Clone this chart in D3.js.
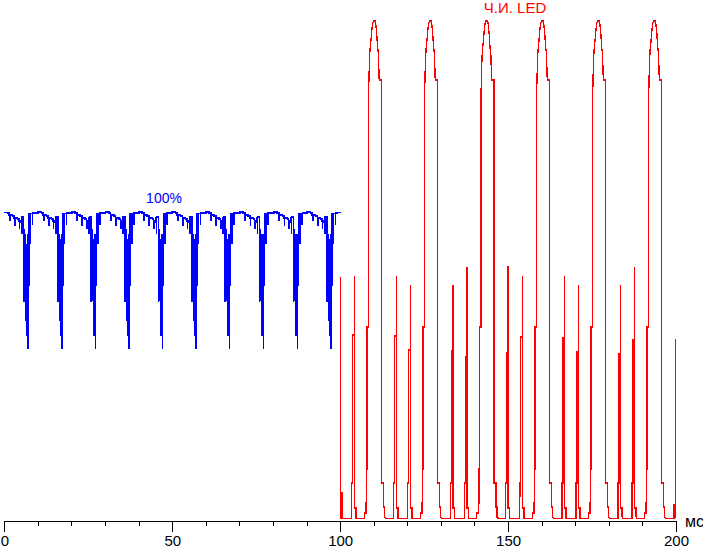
<!DOCTYPE html>
<html>
<head>
<meta charset="utf-8">
<script src="https://cdn.jsdelivr.net/npm/d3@7"></script>
<style>
  html, body { margin: 0; padding: 0; background: #fff; }
  svg { display: block; }
  text { font-family: "Liberation Sans", Arial, sans-serif; }
</style>
</head>
<body>
<svg id="chart" width="703" height="549"></svg>
<script>
// ---------------- data ----------------
const xMajorTicks = [0, 50, 100, 150, 200];
const xMinorTicks = [10, 20, 30, 40, 60, 70, 80, 90, 110, 120, 130, 140, 160, 170, 180, 190];
const xUnitLabel = "мс";
const redLabel = "Ч.И. LED";
const blueLabel = "100%";

// Blue series (100%): times of the deep dips (ms)
const blueDipTimes = [6.97, 17.1, 27.1, 37.15, 47.07, 57.0, 67.0, 77.15, 87.28, 97.2];
// one flicker period around a dip: offset from dip time (ms) and level (%)
const bluePulseOffsets = [-7.9, -7.0, -6.0, -5.5, -5.4, -5.3, -4.5, -4.0, -3.9, -3.8, -3.0, -2.6, -2.5, -2.4, -2.1,
  -1.85, -1.8, -1.75, -1.3, -1.2, -1.15, -1.0, -0.9, -0.8, -0.7, -0.6, -0.5, -0.4, -0.3, -0.2, -0.1,
  0, 0.05, 0.2, 0.3, 0.75, 0.8, 1.4, 1.45, 1.9];
const bluePulseValues = [61.4, 61.6, 61.4, 61.0, 60.0, 61.0, 60.8, 60.4, 59.0, 60.4, 60.2, 59.8, 58.4, 59.8, 59.6,
  60.4, 57.4, 60.6, 60.6, 43.7, 58.0, 46.0, 57.0, 44.0, 56.0, 40.0, 55.0, 37.0, 54.0, 45.0, 57.0,
  34.3, 55.0, 47.0, 61.2, 55.4, 61.3, 59.2, 61.4, 61.5];
const blueEnds = [[0, 61.5], [100, 61.4]];

// Red series (Ч.И. LED): narrow spikes
const redSpikeTimes     = [100.09, 104.26, 116.77, 120.94, 133.57, 137.74, 149.96, 154.30, 166.82, 170.99, 183.50, 187.67, 199.88];
const redSpikePeaks     = [48.6, 48.8, 48.8, 47.0, 47.0, 50.6, 50.7, 48.7, 48.7, 46.9, 46.9, 50.5, 36.2];
const redSpikeShoulders = [0.3, 37.0, 36.8, 34.0, 33.8, 32.6, 33.4, 36.6, 36.4, 33.6, 33.2, 36.0, 3.0];
const redSpikePre       = [0.3, 7.4, 7.4, 7.4, 7.4, 7.4, 7.4, 7.4, 7.4, 7.4, 7.4, 7.4, 0.3];
const redSpikeAfter     = [5.4, 2.4, 2.4, 2.4, 2.4, 2.4, 2.4, 2.4, 2.4, 2.4, 2.4, 2.4, 0.3];
// Red series: wide humps (rise times, and the hump shape)
const redHumpStarts = [108.43, 125.11, 141.91, 158.47, 175.16, 191.84];
const redHumpOffsets = [-1.25, -1.2, -0.75, -0.75, -0.6, -0.6, -0.45, -0.45, 0, 0, 0.15, 0.3, 0.45, 0.75, 1.0, 1.25, 1.5, 2.0,
  2.2, 2.45, 2.7, 2.95, 3.2, 3.9, 3.93, 4.5, 4.5, 4.8, 4.8, 5.1, 5.1];
const redHumpValues = [0.3, 1.4, 1.4, 3.4, 3.4, 10.2, 10.2, 38.6, 38.6, 84.0, 88.6, 92.0, 94.0, 96.0, 98.0, 99.4, 99.8, 99.8,
  99.0, 97.4, 94.6, 93.4, 88.0, 88.0, 7.4, 7.4, 2.6, 2.6, 0.5, 0.5, 0.3];
const redRange = [100, 200];
const redBase = 0.3;

// ---------------- build point tables ----------------
const bluePts = [];
blueDipTimes.forEach(td => {
  bluePulseOffsets.forEach((o, i) => {
    const t = td + o;
    if (t >= 0 && t <= 100) bluePts.push([t, bluePulseValues[i]]);
  });
});
blueEnds.forEach(p => bluePts.push(p));
bluePts.sort((a, b) => a[0] - b[0]);

const redPts = [[redRange[0], redBase]];
redSpikeTimes.forEach((ts, i) => {
  const s = [
    [ts - 0.8, redBase], [ts - 0.78, redSpikePre[i]], [ts - 0.5, redSpikePre[i]],
    [ts - 0.5, redSpikeShoulders[i]], [ts - 0.02, redSpikeShoulders[i]], [ts, redSpikePeaks[i]],
    [ts + 0.02, redSpikeAfter[i]], [ts + 0.45, redSpikeAfter[i]], [ts + 0.47, redBase]
  ];
  s.forEach(p => { if (p[0] >= redRange[0] && p[0] <= redRange[1]) redPts.push(p); });
});
redHumpStarts.forEach(tr => {
  redHumpOffsets.forEach((o, i) => redPts.push([tr + o, redHumpValues[i]]));
});
redPts.sort((a, b) => a[0] - b[0]);

// ---------------- drawing ----------------
const svg = d3.select("#chart");
const x = d3.scaleLinear().domain([0, 200]).range([4.3, 676]);
const y = d3.scaleLinear().domain([0, 100]).range([520, 20]);

const stepLine = d3.line().x(d => x(d[0])).y(d => y(d[1])).curve(d3.curveStepAfter);
const line = d3.line().x(d => x(d[0])).y(d => y(d[1]));

svg.append("path").datum(bluePts)
  .attr("d", stepLine).attr("fill", "none").attr("stroke", "#0000ff")
  .attr("stroke-width", 1.6).attr("stroke-linejoin", "miter").attr("shape-rendering", "crispEdges");

svg.append("path").datum(redPts)
  .attr("d", line).attr("fill", "none").attr("stroke", "#ff0000")
  .attr("stroke-width", 1.3).attr("stroke-linejoin", "miter").attr("shape-rendering", "crispEdges");

// axis
const minorAxis = d3.axisBottom(x).tickValues(xMinorTicks).tickSize(5).tickSizeOuter(0).tickFormat("");
const majorAxis = d3.axisBottom(x).tickValues(xMajorTicks).tickSize(11).tickSizeOuter(0).tickPadding(3);

const gMinor = svg.append("g").attr("transform", "translate(0,521)").call(minorAxis);
const gMajor = svg.append("g").attr("transform", "translate(0,521)").call(majorAxis);
[gMinor, gMajor].forEach(g => {
  g.selectAll("path, line").attr("stroke", "#000").attr("shape-rendering", "crispEdges");
});
gMajor.selectAll("text").attr("fill", "#000").attr("font-size", 15)
  .attr("font-family", "'Liberation Sans', Arial, sans-serif");
gMajor.selectAll(".tick text").filter(d => d === 0).attr("text-anchor", "start").attr("x", -4);

svg.append("text").attr("x", 685).attr("y", 527).attr("font-size", 16).attr("fill", "#000").text(xUnitLabel);

svg.append("text").attr("x", 515).attr("y", 13).attr("text-anchor", "middle")
  .attr("font-size", 15).attr("fill", "#ff0000").text(redLabel);
svg.append("text").attr("x", 164).attr("y", 203).attr("text-anchor", "middle")
  .attr("font-size", 14).attr("fill", "#0000ff").text(blueLabel);
</script>
</body>
</html>
